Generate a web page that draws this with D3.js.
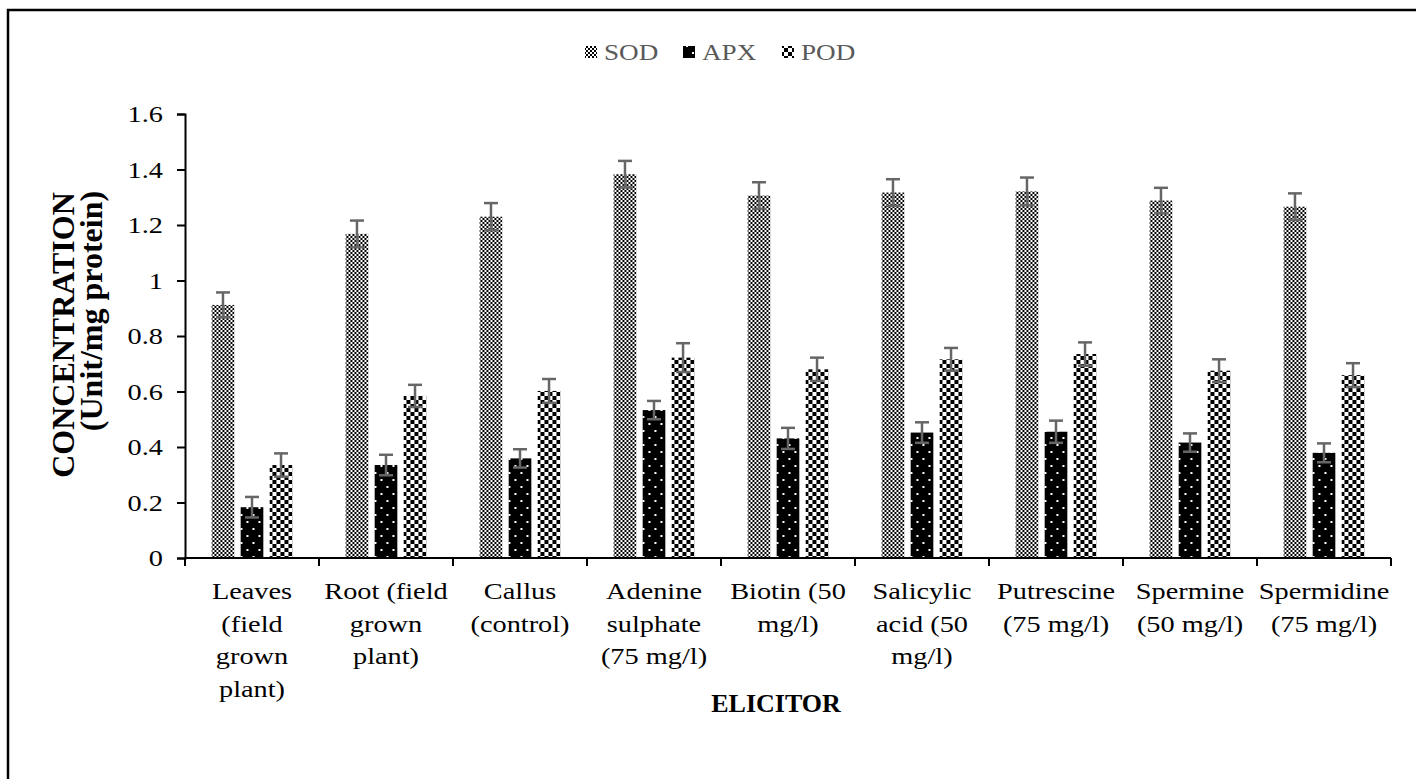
<!DOCTYPE html>
<html>
<head>
<meta charset="utf-8">
<script src="https://cdn.jsdelivr.net/npm/d3@7"></script>
<style>
  html, body { margin: 0; padding: 0; background: #fff; }
  svg { display: block; }
  text { font-family: "Liberation Serif", "Times New Roman", serif; }
</style>
</head>
<body>
<svg id="chart" width="1416" height="779"></svg>
<script>
// ---------- data ----------
const categories = [
  "Leaves (field grown plant)", "Root (field grown plant)", "Callus (control)",
  "Adenine sulphate (75 mg/l)", "Biotin (50 mg/l)", "Salicylic acid (50 mg/l)",
  "Putrescine (75 mg/l)", "Spermine (50 mg/l)", "Spermidine (75 mg/l)"
];
const categoryLines = [
  ["Leaves", "(field", "grown", "plant)"],
  ["Root (field", "grown", "plant)"],
  ["Callus", "(control)"],
  ["Adenine", "sulphate", "(75 mg/l)"],
  ["Biotin (50", "mg/l)"],
  ["Salicylic", "acid (50", "mg/l)"],
  ["Putrescine", "(75 mg/l)"],
  ["Spermine", "(50 mg/l)"],
  ["Spermidine", "(75 mg/l)"]
];
const seriesNames = ["SOD", "APX", "POD"];
const sodValues = [0.912, 1.168, 1.230, 1.383, 1.306, 1.317, 1.321, 1.288, 1.266];
const apxValues = [0.183, 0.335, 0.359, 0.533, 0.431, 0.452, 0.455, 0.416, 0.379];
const podValues = [0.335, 0.584, 0.602, 0.722, 0.680, 0.716, 0.735, 0.675, 0.659];
const sodErrors = [0.045, 0.048, 0.049, 0.048, 0.048, 0.048, 0.050, 0.046, 0.048];
const apxErrors = [0.037, 0.037, 0.033, 0.033, 0.038, 0.037, 0.040, 0.033, 0.034];
const podErrors = [0.042, 0.040, 0.043, 0.052, 0.042, 0.041, 0.042, 0.041, 0.043];
const yTicks = [0, 0.2, 0.4, 0.6, 0.8, 1, 1.2, 1.4, 1.6];
const yTitle = ["CONCENTRATION", "(Unit/mg protein)"];
const xTitle = "ELICITOR";

const seriesValues = { SOD: sodValues, APX: apxValues, POD: podValues };
const seriesErrors = { SOD: sodErrors, APX: apxErrors, POD: podErrors };

// ---------- layout ----------
const SX = 1.18; // horizontal stretch of the original picture's text
const svg = d3.select("#chart");
const plot = { left: 185, right: 1391, top: 114, bottom: 558 };

// frame
svg.append("path")
  .attr("d", "M8,779 L8,10 L1416,10")
  .attr("fill", "none").attr("stroke", "#000").attr("stroke-width", 2.5);

// patterns
const defs = svg.append("defs");
const pSod = defs.append("pattern").attr("id", "pat-SOD").attr("patternUnits", "userSpaceOnUse")
  .attr("width", 4).attr("height", 4);
pSod.append("rect").attr("width", 4).attr("height", 4).attr("fill", "#fff");
pSod.append("rect").attr("x", 0).attr("y", 0).attr("width", 2).attr("height", 2).attr("fill", "#000");
pSod.append("rect").attr("x", 2).attr("y", 2).attr("width", 2).attr("height", 2).attr("fill", "#000");

const pApx = defs.append("pattern").attr("id", "pat-APX").attr("patternUnits", "userSpaceOnUse")
  .attr("width", 12).attr("height", 14);
pApx.append("rect").attr("width", 12).attr("height", 14).attr("fill", "#000");
pApx.append("rect").attr("x", 2).attr("y", 3).attr("width", 2).attr("height", 2).attr("fill", "#fff");
pApx.append("rect").attr("x", 8).attr("y", 10).attr("width", 2).attr("height", 2).attr("fill", "#fff");

const pPod = defs.append("pattern").attr("id", "pat-POD").attr("patternUnits", "userSpaceOnUse")
  .attr("width", 8).attr("height", 8);
pPod.append("rect").attr("width", 8).attr("height", 8).attr("fill", "#fff");
pPod.append("rect").attr("x", 0).attr("y", 0).attr("width", 4).attr("height", 4).attr("fill", "#000");
pPod.append("rect").attr("x", 4).attr("y", 4).attr("width", 4).attr("height", 4).attr("fill", "#000");

// scales
const x0 = d3.scaleBand().domain(categories).range([plot.left, plot.right])
  .paddingInner(0.35).paddingOuter(0.175);
const x1 = d3.scaleBand().domain(seriesNames).range([0, x0.bandwidth()])
  .paddingInner(0.22).paddingOuter(0.11);
const y = d3.scaleLinear().domain([0, 1.6]).range([plot.bottom, plot.top]);

function stretchText(sel) {
  sel.each(function () {
    const t = d3.select(this);
    const tx = +t.attr("x") || 0, ty = +t.attr("y") || 0;
    t.attr("x", null).attr("y", null)
     .attr("transform", `translate(${tx},${ty}) scale(${SX},1)`);
  });
}

// bars
const groups = svg.append("g").selectAll("g").data(categories).join("g")
  .attr("transform", d => `translate(${x0(d)},0)`);
groups.selectAll("rect").data((d, i) => seriesNames.map(s => ({ s, v: seriesValues[s][i] })))
  .join("rect")
  .attr("x", d => x1(d.s)).attr("width", x1.bandwidth())
  .attr("y", d => y(d.v)).attr("height", d => y(0) - y(d.v))
  .attr("fill", d => `url(#pat-${d.s})`);

// error bars
const cap = 7;
groups.selectAll("g.err").data((d, i) => seriesNames.map(s => ({ s, v: seriesValues[s][i], e: seriesErrors[s][i] })))
  .join("g").attr("class", "err")
  .each(function (d) {
    const g = d3.select(this);
    const cx = x1(d.s) + x1.bandwidth() / 2;
    const yt = y(d.v + d.e), yb = y(d.v - d.e);
    g.append("line").attr("x1", cx).attr("x2", cx).attr("y1", yt).attr("y2", yb);
    g.append("line").attr("x1", cx - cap).attr("x2", cx + cap).attr("y1", yt).attr("y2", yt);
    g.append("line").attr("x1", cx - cap).attr("x2", cx + cap).attr("y1", yb).attr("y2", yb);
  })
  .selectAll("line").attr("stroke", "#666").attr("stroke-width", 2.5);

// y axis
const yAxis = svg.append("g").attr("transform", `translate(${plot.left},0)`)
  .call(d3.axisLeft(y).tickValues(yTicks).tickFormat(d3.format("")).tickSize(8).tickPadding(14));
yAxis.select(".domain").attr("stroke", "#000").attr("stroke-width", 2);
yAxis.selectAll(".tick line").attr("stroke", "#000").attr("stroke-width", 2);
yAxis.selectAll(".tick text").attr("font-size", 24).attr("fill", "#000")
  .attr("font-family", "Liberation Serif").call(stretchText);

// x axis: ticks at category boundaries
const boundaries = d3.range(categories.length + 1).map(i => plot.left + i * x0.step());
const xAxisG = svg.append("g");
xAxisG.append("line").attr("x1", plot.left).attr("x2", plot.right)
  .attr("y1", plot.bottom).attr("y2", plot.bottom).attr("stroke", "#000").attr("stroke-width", 2);
xAxisG.selectAll("line.tk").data(boundaries).join("line").attr("class", "tk")
  .attr("x1", d => d).attr("x2", d => d).attr("y1", plot.bottom).attr("y2", plot.bottom + 8)
  .attr("stroke", "#000").attr("stroke-width", 2);

// category labels
const catG = svg.append("g");
categories.forEach((c, i) => {
  const cx = x0(c) + x0.bandwidth() / 2;
  categoryLines[i].forEach((line, j) => {
    catG.append("text").attr("x", cx).attr("y", 599 + j * 32.5)
      .attr("text-anchor", "middle").attr("font-size", 24).attr("fill", "#000")
      .text(line);
  });
});
catG.selectAll("text").call(stretchText);

// axis titles
svg.append("text").attr("x", 776).attr("y", 712).attr("text-anchor", "middle")
  .attr("font-size", 26).attr("font-weight", "bold").text(xTitle);
svg.append("text").attr("transform", "translate(74,335) rotate(-90)").attr("text-anchor", "middle")
  .attr("font-size", 32).attr("font-weight", "bold").text(yTitle[0]);
svg.append("text").attr("transform", "translate(102,311) rotate(-90)").attr("text-anchor", "middle")
  .attr("font-size", 32).attr("font-weight", "bold").text(yTitle[1]);

// legend
const legendX = [585, 683, 782];
const legend = svg.append("g");
seriesNames.forEach((s, i) => {
  legend.append("rect").attr("x", legendX[i]).attr("y", 46).attr("width", 12).attr("height", 12)
    .attr("fill", `url(#pat-${s})`);
  legend.append("text").attr("x", legendX[i] + 19).attr("y", 60).attr("font-size", 23)
    .attr("fill", "#595959").text(s);
});
legend.selectAll("text").call(stretchText);
</script>
</body>
</html>
